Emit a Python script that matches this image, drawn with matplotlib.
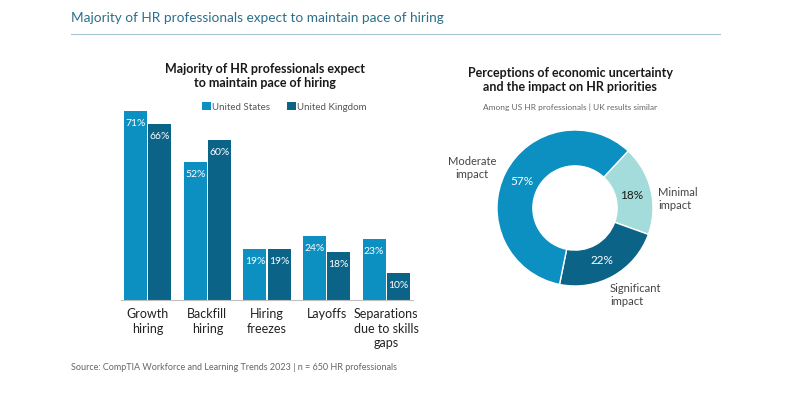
import numpy as np
import matplotlib.pyplot as plt

plt.rcParams['font.family'] = ['Lato', 'DejaVu Sans']

categories = ['Growth\nhiring', 'Backfill\nhiring', 'Hiring\nfreezes', 'Layoffs',
              'Separations\ndue to skills\ngaps']
us_vals = [71, 52, 19, 24, 23]
uk_vals = [66, 60, 19, 18, 10]

pie_labels = ['Minimal\nimpact', 'Significant\nimpact', 'Moderate\nimpact']
pie_vals = [18, 22, 57]

c_us = '#0c8fc1'
c_uk = '#0b6388'
c_min = '#a3dcdb'
W, H = 800, 393

fig = plt.figure(figsize=(8, 3.93), dpi=100)
fig.patch.set_facecolor('white')

def fx(px):
    return px / W

def fy(py):
    return 1 - py / H

# header
fig.text(fx(71), fy(18), 'Majority of HR professionals expect to maintain pace of hiring',
         color='#2c6f8c', fontsize=9.8, va='center', ha='left')
fig.add_artist(plt.Line2D([fx(71), fx(720)], [fy(34), fy(34)], color='#a9c6d3', lw=0.8))

# bar chart
ax = fig.add_axes([fx(121), fy(300), fx(292), 266 / H])
x = np.arange(len(categories))
bw = 0.386
off = bw / 2 + 0.009
ax.bar(x - off, us_vals, bw, color=c_us, label='United States')
ax.bar(x + off, uk_vals, bw, color=c_uk, label='United Kingdom')
for xi, v in zip(x - off, us_vals):
    ax.annotate(f'{v}%', (xi, v), xytext=(0, -9), textcoords='offset points',
                ha='center', va='center', color='white', fontsize=7.5)
for xi, v in zip(x + off, uk_vals):
    ax.annotate(f'{v}%', (xi, v), xytext=(0, -9), textcoords='offset points',
                ha='center', va='center', color='white', fontsize=7.5)
ax.set_xlim(-0.45, 4.45)
ax.set_ylim(0, 100)
for s in ['top', 'right', 'left']:
    ax.spines[s].set_visible(False)
ax.spines['bottom'].set_color('#bfbfbf')
ax.set_yticks([])
ax.set_xticks(x)
ax.set_xticklabels(categories, fontsize=9, color='#222222', linespacing=1.25)
ax.tick_params(axis='x', length=0, pad=6)
fig.legend(*ax.get_legend_handles_labels(), loc='center left',
           bbox_to_anchor=(fx(197), fy(107)), ncol=2, frameon=False,
           fontsize=7, handlelength=0.9, handleheight=0.9, handletextpad=0.1,
           columnspacing=1.8, labelcolor='#555555', borderpad=0)

fig.text(fx(265), fy(76), 'Majority of HR professionals expect\nto maintain pace of hiring',
         ha='center', va='center', fontsize=9, fontweight='bold', color='#1a1a1a',
         linespacing=1.2)

# donut
pax = fig.add_axes([fx(475), fy(308), fx(200), 200 / H])
wedges, _ = pax.pie(pie_vals, colors=[c_min, c_uk, c_us], startangle=47, counterclock=False,
                    radius=1, wedgeprops=dict(width=0.46, edgecolor='white', linewidth=1))
pax.set_xlim(-100 / 78, 100 / 78)
pax.set_ylim(-100 / 78, 100 / 78)
pax.set_aspect('auto')
pax.axis('off')

fig.text(fx(570), fy(80), 'Perceptions of economic uncertainty\nand the impact on HR priorities',
         ha='center', va='center', fontsize=9, fontweight='bold', color='#1a1a1a',
         linespacing=1.2)
fig.text(fx(570), fy(107), 'Among US HR professionals | UK results similar',
         ha='center', va='center', fontsize=6, color='#666666')

fig.text(fx(632), fy(195), f'{pie_vals[0]}%', ha='center', va='center', fontsize=8.5,
         color='#1a1a1a')
fig.text(fx(602), fy(261), f'{pie_vals[1]}%', ha='center', va='center', fontsize=8.5,
         color='white')
fig.text(fx(522), fy(181), f'{pie_vals[2]}%', ha='center', va='center', fontsize=8.5,
         color='white')

fig.text(fx(658), fy(199), pie_labels[0], ha='left', va='center', fontsize=8,
         color='#444444', linespacing=1.3)
fig.text(fx(610), fy(295), pie_labels[1], ha='left', va='center', fontsize=8,
         color='#444444', linespacing=1.3)
fig.text(fx(472), fy(168), pie_labels[2], ha='center', va='center', fontsize=8,
         color='#444444', linespacing=1.3)

fig.text(fx(71), fy(368), 'Source: CompTIA Workforce and Learning Trends 2023 | n = 650 HR professionals',
         ha='left', va='center', fontsize=6.5, color='#666666')

fig.savefig('out.png', dpi=100)
